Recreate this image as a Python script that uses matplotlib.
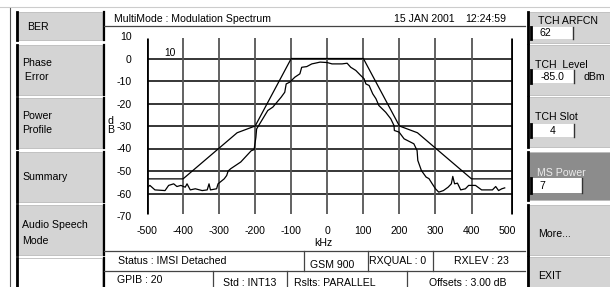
import matplotlib.pyplot as plt
from matplotlib.patches import Rectangle

plt.rcParams['font.family'] = ['Liberation Sans', 'DejaVu Sans']

# measured modulation spectrum (kHz offset, dB)
freq_khz = [-500, -492, -478, -450, -440, -426, -417, -406, -394, -389, -380, -366,
            -347, -333, -328, -324, -307, -303, -286, -279, -275, -268, -240, -211,
            -203, -198, -196, -165, -151, -128, -118, -114, -104, -90, -76, -71,
            -57, -43, -34, -20, 0, 13, 41, 55, 65, 79, 93, 102, 107, 116, 126, 135,
            143, 162, 176, 185, 186, 199, 213, 240, 249, 251, 261, 274, 282, 291,
            300, 309, 322, 335, 344, 348, 353, 361, 370, 383, 392, 411, 428, 458,
            467, 475, 484, 492]
level_db = [-57.5, -56.4, -58.4, -58.7, -56.4, -55.7, -56.9, -56.4, -57.2, -55.7, -58.4, -57.9,
            -58.7, -58.4, -55.7, -58.4, -57.9, -55.7, -53.5, -52.0, -50.0, -49.0, -46.0, -41.0,
            -40.5, -35.0, -31.3, -23.1, -21.6, -17.2, -15.0, -11.3, -10.5, -8.3, -6.8, -3.9,
            -3.6, -2.4, -2.1, -1.6, -1.8, -2.4, -2.4, -2.1, -3.9, -5.3, -7.6, -9.0, -11.3, -12.0, -15.7, -17.9,
            -20.9, -23.9, -26.8, -29.8, -32.0, -32.7, -35.7, -37.9, -40.9, -45.3, -49.8, -52.7, -53.4, -55.7,
            -57.9, -59.4, -58.7, -57.2, -55.7, -52.4, -55.7, -55.4, -58.4, -57.9, -56.4, -56.4, -58.4, -58.4,
            -56.9, -58.7, -57.9, -57.5]

# limit mask
mask_khz = [-500, -400, -250, -200, -100, 100, 200, 250, 400, 515]
mask_db = [-53.5, -53.5, -33, -30, 0, 0, -30, -33, -53.5, -53.5]

x_ticks = [-500, -400, -300, -200, -100, 0, 100, 200, 300, 400, 500]
y_ticks = [10, 0, -10, -20, -30, -40, -50, -60, -70]

left_buttons = [("BER", 12, 40), ("Phase\n Error", 45, 95), ("Power\nProfile", 98, 148),
                ("Summary", 152, 202), ("Audio Speech\nMode", 205, 255), ("", 258, 290)]
right_buttons = [("TCH ARFCN", 12, 43), ("TCH  Level", 45, 95), ("TCH Slot", 97, 147),
                 ("MS Power", 152, 200), ("More...", 205, 255), ("EXIT", 257, 290)]

W, H = 610, 287
fig = plt.figure(figsize=(6.1, 2.87), dpi=100)
fig.patch.set_facecolor("white")

# screen chrome drawn in pixel coords
bg = fig.add_axes([0, 0, 1, 1])
bg.set_xlim(0, W)
bg.set_ylim(H, 0)
bg.axis("off")

fs = 7.6
bg.plot([0, W], [7, 7], color="#cccccc", lw=0.8)
bg.plot([10, 10], [8, H], color="#555555", lw=0.8)

for label, y0, y1 in left_buttons:
    fc = "#d4d4d4" if label else "white"
    bg.add_patch(Rectangle((16, y0), 86, y1 - y0, fc=fc, ec="#bbbbbb", lw=0.6))
    bg.plot([17, 17], [y0, y1], color="black", lw=2)
    bg.plot([103.5, 103.5], [y0, min(y1, H)], color="black", lw=1.6)
    if label:
        lines = label.split("\n")
        if len(lines) == 1:
            bg.text(22 if label != "BER" else 27, (y0 + y1) / 2 + 0.5, label,
                    fontsize=fs, va="center", ha="left")
        else:
            mid = (y0 + y1) / 2
            bg.text(22, mid - 7 + (2 if "Audio" in label else 0), lines[0], fontsize=fs, va="center")
            bg.text(22, mid + 7 + (4 if "Audio" in label else 0), lines[1], fontsize=fs, va="center")

for label, y0, y1 in right_buttons:
    fc = "#8c8c8c" if label == "MS Power" else "#d4d4d4"
    bg.add_patch(Rectangle((527, y0), 83, y1 - y0, fc=fc, ec="#bbbbbb", lw=0.6))
    bg.plot([528, 528], [y0, y1], color="black", lw=2)

# right button texts and value fields
bg.text(538, 20.5, "TCH ARFCN", fontsize=fs, va="center")
bg.text(535, 65, "TCH  Level", fontsize=fs, va="center")
bg.text(583, 77, "dBm", fontsize=fs, va="center")
bg.text(535, 117, "TCH Slot", fontsize=fs, va="center")
bg.text(537, 173, "MS Power", fontsize=fs, va="center", color="#ececec")
bg.text(538, 234, "More...", fontsize=fs, va="center")
bg.text(538, 276, "EXIT", fontsize=fs, va="center")

fields = [("62", 27, 39, 573, 540, "left"), ("-85.0", 70, 83, 574, 552, "center"),
          ("4", 124, 137, 574, 553, "center"), ("7", 178, 193, 582, 539, "left")]
for val, y0, y1, x1, tx, ha in fields:
    bg.add_patch(Rectangle((530, y0), x1 - 530, y1 - y0, fc="white", ec="none"))
    bg.plot([531, 531], [y0, y1], color="black", lw=2)
    bg.plot([x1, x1], [y0, y1], color="#333333", lw=1)
    bg.text(tx, (y0 + y1) / 2 + 0.5, val, fontsize=fs, va="center", ha=ha)

# title bar
bg.text(114, 19.5, "MultiMode : Modulation Spectrum", fontsize=fs, va="center")
bg.text(394, 19.5, "15 JAN 2001", fontsize=fs, va="center")
bg.text(465, 19.5, "12:24:59", fontsize=fs, va="center")
bg.plot([104, 525], [26, 26], color="#444444", lw=0.9)

# status area
bg.plot([104, 525], [250.5, 250.5], color="#444444", lw=0.9)
bg.plot([104, 525], [271, 271], color="#444444", lw=0.9)
for xv in [304, 368, 433]:
    bg.plot([xv, xv], [250.5, 271], color="#444444", lw=0.9)
for xv in [213, 287, 407]:
    bg.plot([xv, xv], [271, H], color="#444444", lw=0.9)
bg.text(118, 261.5, "Status : IMSI Detached", fontsize=fs, va="center")
bg.text(332, 265.5, "GSM 900", fontsize=fs, va="center", ha="center")
bg.text(398, 261.5, "RXQUAL : 0", fontsize=fs, va="center", ha="center")
bg.text(481, 261.5, "RXLEV : 23", fontsize=fs, va="center", ha="center")
bg.text(117, 280, "GPIB : 20", fontsize=fs, va="center")
bg.text(250, 283, "Std : INT13", fontsize=fs, va="center", ha="center")
bg.text(335, 283, "Rslts: PARALLEL", fontsize=fs, va="center", ha="center")
bg.text(468, 283, "Offsets : 3.00 dB", fontsize=fs, va="center", ha="center")

# axis label bits
bg.text(323, 243, "kHz", fontsize=fs, va="center", ha="center")
bg.text(110, 121, "d", fontsize=fs, va="center", ha="center")
bg.text(111, 130, "B", fontsize=fs, va="center", ha="center")

# spectrum plot
ax = fig.add_axes([147 / W, (H - 216) / H, 366 / W, 180 / H])
ax.set_zorder(2)
ax.set_facecolor("white")
x_right = 515
ax.set_xlim(-500, x_right)
ax.set_ylim(-70, 10)
for s in ax.spines.values():
    s.set_visible(False)

y_lo, y_hi = -69.2, 9.0
ax.hlines([0, -10, -20, -30, -40, -50, -60], -500, x_right, color="black", lw=1.1)
ax.vlines([-400, -300, -200, -100, 0, 100, 200, 300, 400], y_lo, y_hi, color="#555555", lw=1.3)
ax.vlines([-500, x_right - 1.5], y_lo, y_hi, color="black", lw=2)

ax.plot(mask_khz, mask_db, color="black", lw=0.9)
ax.plot(freq_khz, level_db, color="black", lw=0.9)
ax.text(-435, 2.5, "10", fontsize=7.4, va="center", ha="center")

ax.set_xticks(x_ticks)
ax.set_xticklabels([str(v) for v in x_ticks], fontsize=fs)
ax.set_yticks(y_ticks)
ax.set_yticklabels([str(v) for v in y_ticks], fontsize=fs)
ax.tick_params(axis="x", length=0, pad=7)
ax.tick_params(axis="y", length=0, pad=11)

fig.savefig("out.png", dpi=100)
